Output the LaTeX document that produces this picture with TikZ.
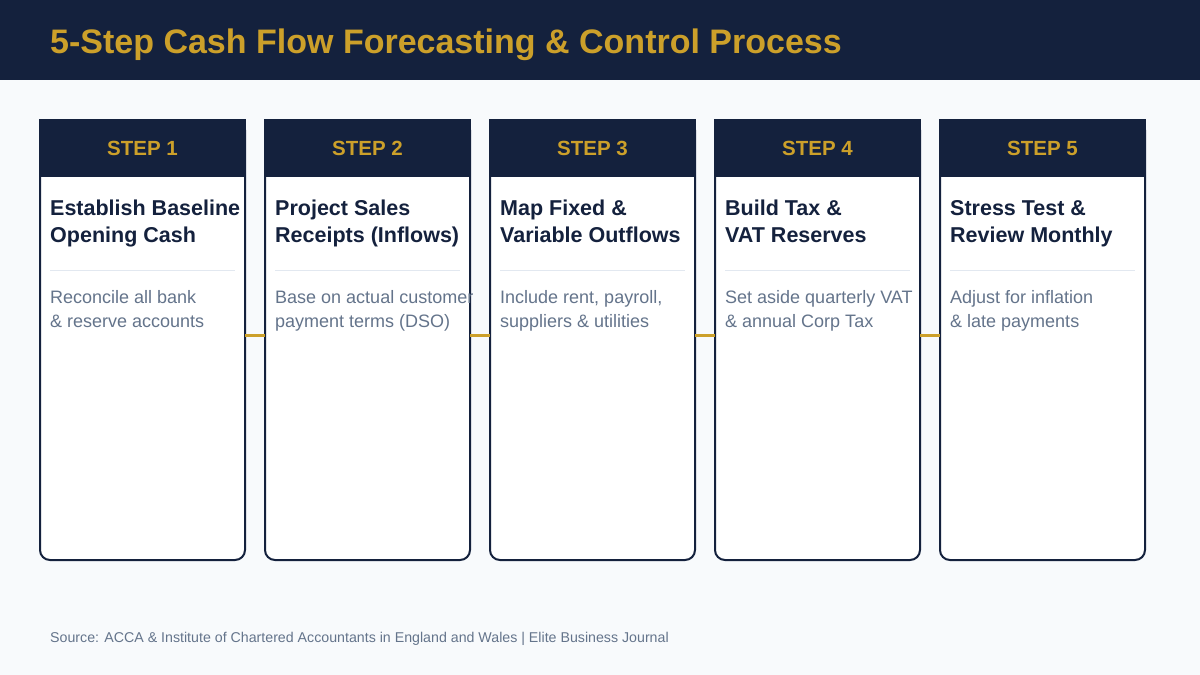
\documentclass[tikz,border=0pt]{standalone}
\usepackage{fontspec}
\setmainfont{Liberation Sans}
\usepackage{xcolor}
\usetikzlibrary{positioning, calc}

\definecolor{navy}{HTML}{14213D}
\definecolor{gold}{HTML}{CCA02A}
\definecolor{pagebg}{HTML}{F8FAFC}
\definecolor{rulegray}{HTML}{E2E8F0}
\definecolor{bodygray}{HTML}{64748B}

\begin{document}
\begin{tikzpicture}[
  x=1pt, y=1pt,
  node distance=20pt,
  card/.style={draw=navy, line width=2pt, fill=white, rounded corners=10pt,
    minimum width=205pt, minimum height=440pt, outer sep=0pt, inner sep=0pt},
  head/.style={draw=navy, line width=2pt, fill=navy, minimum width=205pt,
    minimum height=56pt, outer sep=0pt, inner sep=0pt, text=gold,
    font=\fontsize{20.5}{24}\selectfont\bfseries},
  ttl/.style={inner sep=0pt, align=left, text=navy,
    font=\fontsize{21.5}{27}\selectfont\bfseries},
  desc/.style={inner sep=0pt, align=left, text=bodygray,
    font=\fontsize{18}{24}\selectfont},
  sep/.style={draw=rulegray, line width=1pt},
  link/.style={draw=gold, line width=3pt},
]
  \useasboundingbox (0,0) rectangle (1200,-675);
  \fill[pagebg] (0,0) rectangle (1200,-675);
  \fill[navy] (0,0) rectangle (1200,-80);
  \node (title) [anchor=base west, inner sep=0pt, text=gold,
    font=\fontsize{34}{40}\selectfont\bfseries] at (50,-53)
    {5-Step Cash Flow Forecasting \& Control Process};

  % cards
  \node (card1) [card] at (142.5,-340) {};
  \node (card2) [card, right=of card1] {};
  \node (card3) [card, right=of card2] {};
  \node (card4) [card, right=of card3] {};
  \node (card5) [card, right=of card4] {};

  % connectors between the cards
  \draw[link] ([yshift=5pt]card1.east) -- ([yshift=5pt]card2.west);
  \draw[link] ([yshift=5pt]card2.east) -- ([yshift=5pt]card3.west);
  \draw[link] ([yshift=5pt]card3.east) -- ([yshift=5pt]card4.west);
  \draw[link] ([yshift=5pt]card4.east) -- ([yshift=5pt]card5.west);

  \node (h1) [head, anchor=north] at (card1.north) {STEP 1};
  \node (h2) [head, anchor=north] at (card2.north) {STEP 2};
  \node (h3) [head, anchor=north] at (card3.north) {STEP 3};
  \node (h4) [head, anchor=north] at (card4.north) {STEP 4};
  \node (h5) [head, anchor=north] at (card5.north) {STEP 5};

  \node (t1) [ttl, below right=24pt and 10pt of h1.south west] {Establish Baseline\\Opening Cash};
  \node (t2) [ttl, below right=24pt and 10pt of h2.south west] {Project Sales\\Receipts (Inflows)};
  \node (t3) [ttl, below right=24pt and 10pt of h3.south west] {Map Fixed \&\\Variable Outflows};
  \node (t4) [ttl, below right=24pt and 10pt of h4.south west] {Build Tax \&\\VAT Reserves};
  \node (t5) [ttl, below right=24pt and 10pt of h5.south west] {Stress Test \&\\Review Monthly};

  \draw[sep] ([shift={(10,-94)}]h1.south west) -- ([shift={(-10,-94)}]h1.south east);
  \draw[sep] ([shift={(10,-94)}]h2.south west) -- ([shift={(-10,-94)}]h2.south east);
  \draw[sep] ([shift={(10,-94)}]h3.south west) -- ([shift={(-10,-94)}]h3.south east);
  \draw[sep] ([shift={(10,-94)}]h4.south west) -- ([shift={(-10,-94)}]h4.south east);
  \draw[sep] ([shift={(10,-94)}]h5.south west) -- ([shift={(-10,-94)}]h5.south east);

  \node (d1) [desc, below right=114pt and 10pt of h1.south west] {Reconcile all bank\\\& reserve accounts};
  \node (d2) [desc, below right=114pt and 10pt of h2.south west] {Base on actual customer\\payment terms (DSO)};
  \node (d3) [desc, below right=114pt and 10pt of h3.south west] {Include rent, payroll,\\suppliers \& utilities};
  \node (d4) [desc, below right=114pt and 10pt of h4.south west] {Set aside quarterly VAT\\\& annual Corp Tax};
  \node (d5) [desc, below right=114pt and 10pt of h5.south west] {Adjust for inflation\\\& late payments};

  \node (src) [anchor=base west, inner sep=0pt, text=bodygray,
    font=\fontsize{14.2}{17}\selectfont] at (50,-642)
    {Source: ACCA \& Institute of Chartered Accountants in England and Wales | Elite Business Journal};
\end{tikzpicture}
\end{document}
